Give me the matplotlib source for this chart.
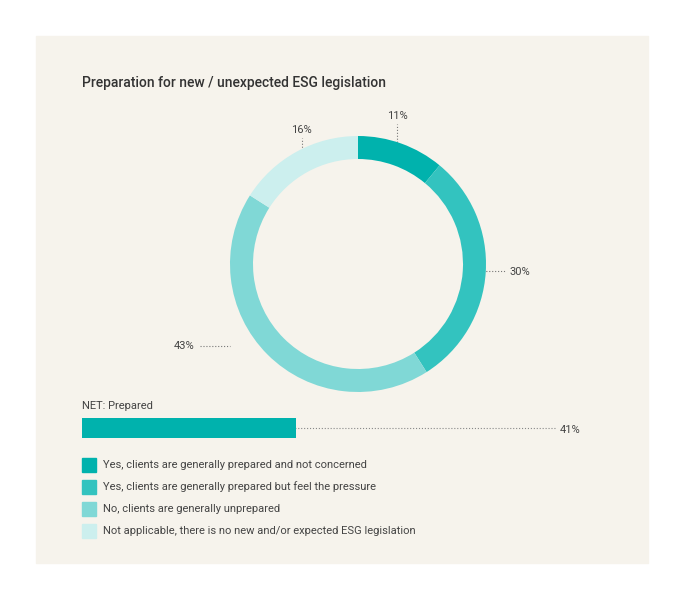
import numpy as np
import matplotlib.pyplot as plt
from matplotlib.patches import Rectangle

plt.rcParams["font.family"] = "Roboto"

# Data
categories = [
    "Yes, clients are generally prepared and not concerned",
    "Yes, clients are generally prepared but feel the pressure",
    "No, clients are generally unprepared",
    "Not applicable, there is no new and/or expected ESG legislation",
]
shares = [11, 30, 43, 16]
net_label = "NET: Prepared"
net_value = 41

colors = ["#00b2ad", "#33c3bf", "#80d8d6", "#ccefee"]
W, H = 684, 600
text_col = "#444444"

fig = plt.figure(figsize=(W / 100, H / 100), dpi=100)
fig.patch.set_facecolor("white")

# background panel / overlay in pixel coords
base = fig.add_axes([0, 0, 1, 1])
base.set_xlim(0, W)
base.set_ylim(H, 0)
base.axis("off")
base.add_patch(Rectangle((36, 36), 612, 527, color="#f6f3ec", zorder=0))
base.text(82, 83, "Preparation for new / unexpected ESG legislation",
          fontsize=10, color="#333333", va="center", fontweight="medium")

# donut
cx, cy, r = 358, 264, 128
ring = 23
dax = fig.add_axes([(cx - r) / W, (H - cy - r) / H, 2 * r / W, 2 * r / H])
dax.pie(shares, colors=colors, startangle=90, counterclock=False,
        radius=1, wedgeprops=dict(width=ring / r, linewidth=0))
dax.set_xlim(-1, 1)
dax.set_ylim(-1, 1)
dax.set_aspect("auto")

# leader lines: mid-ring point of each slice
cum = np.cumsum([0] + shares[:-1])
mid_r = r - ring / 2
for i, (v, c0) in enumerate(zip(shares, cum)):
    ang = np.deg2rad(90 - (c0 + v / 2) * 3.6)
    px, py = cx + mid_r * np.cos(ang), cy - mid_r * np.sin(ang)
    lbl = f"{v}%"
    if i in (0, 3):
        ly = 116 if i == 0 else 130
        base.plot([px, px], [py, ly + 8], ls=":", lw=0.8, color="#777777")
        base.plot(px, py, "o", ms=2.5, color="#444444")
        base.text(px, ly, lbl, ha="center", va="center", fontsize=8, color=text_col)
    elif i == 1:
        base.plot([px, 505], [py, py], ls=":", lw=0.8, color="#777777")
        base.plot(px, py, "o", ms=2.5, color="#444444")
        base.text(510, py + 1, lbl, ha="left", va="center", fontsize=8, color=text_col)
    else:
        base.plot([200, cx - r], [py, py], ls=":", lw=0.8, color="#777777")
        base.text(194, py, lbl, ha="right", va="center", fontsize=8, color=text_col)

# NET bar
bx0, bw, by, bh = 82, 522, 418, 20
bax = fig.add_axes([bx0 / W, (H - by - bh) / H, bw / W, bh / H])
bax.barh([0], [net_value], height=1, color=colors[0])
bax.set_xlim(0, 100)
bax.set_ylim(-0.5, 0.5)
bax.axis("off")
base.text(82, 406, net_label, fontsize=8, color=text_col, va="center")
end_x = bx0 + bw * net_value / 100
base.plot([end_x - 13, 555], [428, 428], ls=":", lw=0.8, color="#888888")
base.plot(end_x - 13, 428, "o", ms=2.5, color="#444444")
base.text(560, 430, f"{net_value}%", fontsize=8, color=text_col, va="center")

# legend
for i, (lab, col) in enumerate(zip(categories, colors)):
    y = 465 + 22 * i
    base.add_patch(Rectangle((82, y - 7), 14, 14, color=col))
    base.text(103, y, lab, fontsize=8, color=text_col, va="center")

fig.savefig("out.png", dpi=100)
